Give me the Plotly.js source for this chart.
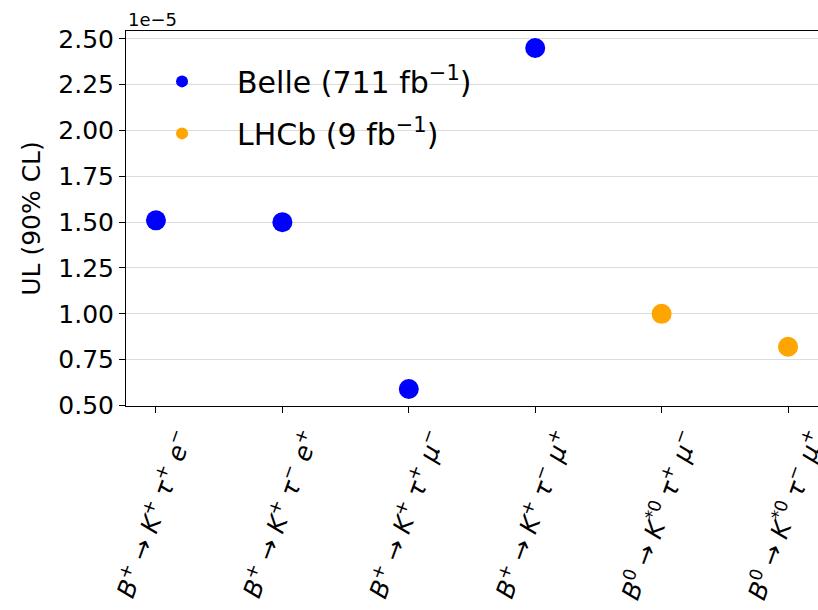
<!DOCTYPE html>
<html>
<head>
<meta charset="utf-8">
<script src="https://cdn.plot.ly/plotly-3.0.1.min.js"></script>
<style>html,body{margin:0;padding:0;background:#fff;}#chart{width:818px;height:610px;}</style>
</head>
<body>
<div id="chart"></div>
<script>
// Decay channels (x tick labels)
var channels = [
  "<i>B</i><sup>+</sup> → <i>K</i><sup>+</sup> <i>τ</i><sup>+</sup> <i>e</i><sup>−</sup>",
  "<i>B</i><sup>+</sup> → <i>K</i><sup>+</sup> <i>τ</i><sup>−</sup> <i>e</i><sup>+</sup>",
  "<i>B</i><sup>+</sup> → <i>K</i><sup>+</sup> <i>τ</i><sup>+</sup> <i>μ</i><sup>−</sup>",
  "<i>B</i><sup>+</sup> → <i>K</i><sup>+</sup> <i>τ</i><sup>−</sup> <i>μ</i><sup>+</sup>",
  "<i>B</i><sup>0</sup> → <i>K</i><sup>*0</sup> <i>τ</i><sup>+</sup> <i>μ</i><sup>−</sup>",
  "<i>B</i><sup>0</sup> → <i>K</i><sup>*0</sup> <i>τ</i><sup>−</sup> <i>μ</i><sup>+</sup>"
];
var channelIndex = [0, 1, 2, 3, 4, 5];

// Upper limits, in units of 1e-5
var belleIdx = [0, 1, 2, 3];
var belleUL = [1.51, 1.50, 0.59, 2.45];
var lhcbIdx = [4, 5];
var lhcbUL = [1.00, 0.82];

var yTicks = [0.50, 0.75, 1.00, 1.25, 1.50, 1.75, 2.00, 2.25, 2.50];

var font = "DejaVu Sans, sans-serif";

var traces = [
  {
    x: belleIdx, y: belleUL, type: "scatter", mode: "markers",
    name: "Belle (711 fb<sup>−1</sup>)", legendgroup: "a",
    marker: {color: "#0000ff", size: 20}
  },
  {
    x: lhcbIdx, y: lhcbUL, type: "scatter", mode: "markers",
    name: "LHCb (9 fb<sup>−1</sup>)", legendgroup: "b",
    marker: {color: "#ffa500", size: 20}
  }
];

var layout = {
  width: 818, height: 610,
  margin: {l: 126, r: 0, t: 31, b: 204},
  paper_bgcolor: "#fff", plot_bgcolor: "#fff",
  font: {family: font, color: "#000"},
  showlegend: true,
  legend: {
    x: 0.0015, y: 0.935, xanchor: "left", yanchor: "top",
    font: {family: font, size: 30, color: "#000"},
    bgcolor: "rgba(0,0,0,0)", borderwidth: 0,
    itemsizing: "constant", itemwidth: 100,
    traceorder: "grouped", tracegroupgap: 10
  },
  xaxis: {
    range: [-0.237, 5.237],
    tickmode: "array", tickvals: channelIndex, ticktext: channels,
    tickangle: -70, ticks: "outside", ticklen: 6, tickcolor: "#000",
    tickfont: {family: font, size: 25, color: "#000"},
    ticklabelshift: 25, ticklabelstandoff: 0, ticklabeloverflow: "allow",
    showgrid: false, zeroline: false,
    showline: true, linecolor: "#000", linewidth: 1, mirror: true
  },
  yaxis: {
    range: [0.497, 2.543],
    tickmode: "array", tickvals: yTicks,
    ticktext: yTicks.map(function(v){return v.toFixed(2);}),
    ticks: "outside", ticklen: 6, tickcolor: "#000",
    tickfont: {family: font, size: 25, color: "#000"},
    showgrid: true, gridcolor: "#dcdcdc", gridwidth: 1,
    zeroline: false,
    showline: true, linecolor: "#000", linewidth: 1, mirror: true,
    title: {text: "UL (90% CL)", font: {family: font, size: 25, color: "#000"}, standoff: 10}
  },
  annotations: [
    {
      text: "1e−5", xref: "paper", yref: "paper", x: 0, y: 1,
      xanchor: "left", yanchor: "bottom", yshift: -1, showarrow: false,
      font: {family: font, size: 18, color: "#000"}
    }
  ]
};

Plotly.newPlot("chart", traces, layout, {displayModeBar: false, staticPlot: true});
</script>
</body>
</html>
